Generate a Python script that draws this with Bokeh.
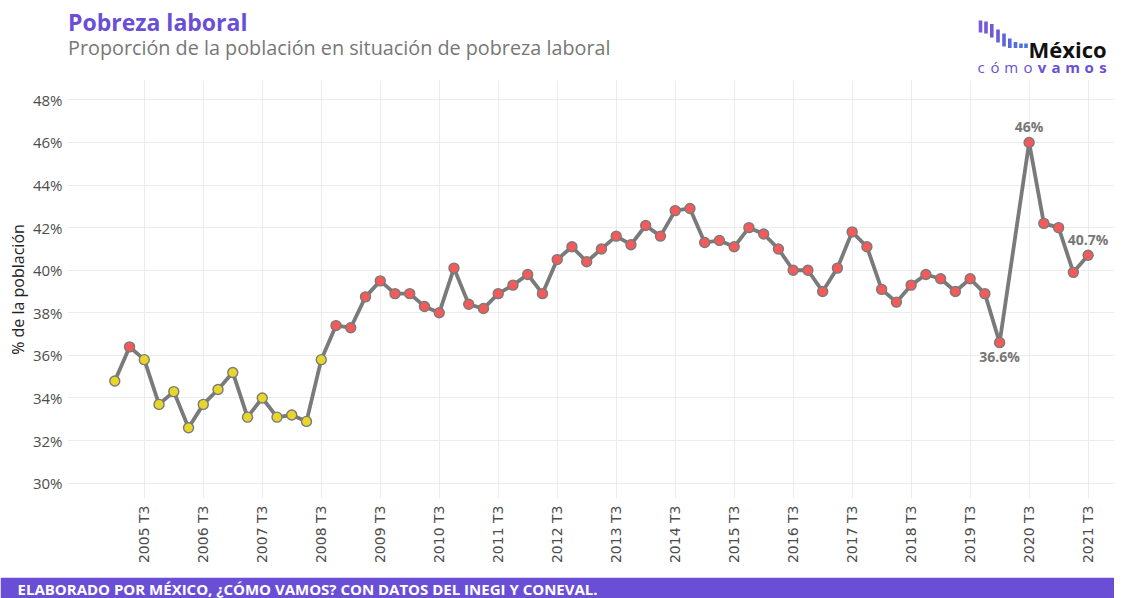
from bokeh.plotting import figure
from bokeh.models import Range1d, FixedTicker, PrintfTickFormatter, ColumnDataSource, Title
from bokeh.layouts import column
from bokeh.embed import file_html
from bokeh.resources import INLINE
from bokeh.core.properties import value

# ---------------- data ----------------
years = list(range(2005, 2022))
quarters = ["T1", "T2", "T3", "T4"]
periods = [f"{y} {q}" for y in years for q in quarters][:67]   # 2005 T1 .. 2021 T3

pobreza = [
    34.8, 36.4, 35.8, 33.7,
    34.3, 32.6, 33.7, 34.4,
    35.2, 33.1, 34.0, 33.1,
    33.2, 32.9, 35.8, 37.4,
    37.3, 38.75, 39.5, 38.9,
    38.9, 38.3, 38.0, 40.1,
    38.4, 38.2, 38.9, 39.3,
    39.8, 38.9, 40.5, 41.1,
    40.4, 41.0, 41.6, 41.2,
    42.1, 41.6, 42.8, 42.9,
    41.3, 41.4, 41.1, 42.0,
    41.7, 41.0, 40.0, 40.0,
    39.0, 40.1, 41.8, 41.1,
    39.1, 38.5, 39.3, 39.8,
    39.6, 39.0, 39.6, 38.9,
    36.6, None, 46.0, 42.2,
    42.0, 39.9, 40.7,
]
threshold = 36.0
tick_periods = [f"{y} T3" for y in years]
y_ticks = list(range(30, 49, 2))
annot_periods = ["2020 T3", "2020 T1", "2021 T3"]
annot_texts = ["46%", "36.6%", "40.7%"]
annot_side = ["above", "below", "above"]

# ---------------- styles ----------------
FONT = "Open Sans"
PURPLE = "#6a4fd6"
RED = "#f55a5a"
YELLOW = "#e8d62a"
LINE = "#7a7a7a"
GRID = "#ececec"

W = 1114
FL, FR = 67, W             # shared frame left / right (pixels)

# ---------------- header ----------------
hdr = figure(width=W, height=78, x_range=Range1d(FL, FR), y_range=Range1d(78, 0),
             toolbar_location=None, output_backend="svg", min_border=0,
             min_border_left=FL, min_border_right=0,
             x_axis_location=None, y_axis_location=None)
hdr.grid.visible = False
hdr.outline_line_color = None
hdr.text(x=[67.5], y=[37.5], text=["Pobreza laboral"], text_font=value(FONT),
         text_font_size="23px", text_font_style="bold", text_color=PURPLE,
         text_baseline="bottom")
hdr.text(x=[67.5], y=[60.6], text=["Proporción de la población en situación de pobreza laboral"],
         text_font=value(FONT), text_font_size="19.8px", text_color="#777777",
         text_baseline="bottom")
# logo (shifted 8px left so it stays inside the page)
LX = -8
bx = [988, 993.5, 999.3, 1005.5, 1011.5, 1017.3, 1023, 1028.5, 1033.5]
btop = [20, 21, 23.5, 29, 33, 38, 41.5, 43, 43]
bbot = [32, 33, 37, 42, 46, 47.5, 47.5, 47.5, 47.5]
bcol = ["#7a5ad8", "#7458d8", "#6d5ad9", "#665edb", "#5f63dd", "#5868de", "#526ddf", "#4c72e0", "#4677e1"]
hdr.quad(left=[b + LX - 1.8 for b in bx], right=[b + LX + 1.8 for b in bx], top=btop, bottom=bbot,
         fill_color=bcol, line_color=None)
hdr.text(x=[1036 + LX], y=[63.7], text=["México"], text_font=value(FONT), text_font_size="22px",
         text_font_style="bold", text_color="#111111", text_baseline="bottom")
lx = [988.7, 1002.5, 1018.7, 1035.5, 1049.5, 1063.5, 1080, 1096.7, 1110.5]
lt = ["c", "ó", "m", "o", "v", "a", "m", "o", "s"]
hdr.text(x=[v + LX for v in lx[:4]], y=[76.4] * 4, text=lt[:4], text_font=value(FONT),
         text_font_size="15px", text_color=PURPLE, text_align="center", text_baseline="bottom")
hdr.text(x=[v + LX for v in lx[4:]], y=[76.4] * 5, text=lt[4:], text_font=value(FONT),
         text_font_size="15px", text_font_style="bold", text_color=PURPLE,
         text_align="center", text_baseline="bottom")

# ---------------- main chart ----------------
idx = {p: i for i, p in enumerate(periods)}
xs = [i for i, v in enumerate(pobreza) if v is not None]
ys = [v for v in pobreza if v is not None]
cols = [RED if v > threshold else YELLOW for v in ys]
src = ColumnDataSource(dict(x=xs, y=ys, c=cols))

p = figure(width=W, height=499, x_range=Range1d(-3.207, 67.79), y_range=Range1d(29.28, 48.91),
           toolbar_location=None, output_backend="svg",
           min_border_left=FL, min_border_right=0, min_border_top=2, min_border_bottom=79)
p.outline_line_color = None
p.background_fill_color = "white"

p.xaxis.ticker = FixedTicker(ticks=[idx[t] for t in tick_periods])
p.xaxis.major_label_overrides = {idx[t]: t for t in tick_periods}
p.xaxis.major_label_orientation = 1.5708
p.xaxis.major_label_standoff = 7
p.yaxis.ticker = FixedTicker(ticks=y_ticks)
p.yaxis.formatter = PrintfTickFormatter(format="%d%%")
p.yaxis.major_label_standoff = 5
p.yaxis.axis_label = "% de la población"
p.yaxis.axis_label_standoff = 1
p.yaxis.axis_label_text_font = FONT
p.yaxis.axis_label_text_font_size = "16px"
p.yaxis.axis_label_text_font_style = "normal"
p.yaxis.axis_label_text_color = "#222222"
for ax in (p.xaxis, p.yaxis):
    ax.axis_line_color = None
    ax.major_tick_line_color = None
    ax.minor_tick_line_color = None
    ax.major_tick_out = 0
    ax.major_tick_in = 0
    ax.major_label_text_color = "#4d4d4d"
p.yaxis.major_label_text_font = FONT
p.yaxis.major_label_text_font_size = "15px"
p.xaxis.major_label_text_font = "DejaVu Sans"
p.xaxis.major_label_text_font_size = "14px"
p.xgrid.grid_line_color = GRID
p.ygrid.grid_line_color = GRID

p.line("x", "y", source=src, line_color=LINE, line_width=3.8)
p.scatter("x", "y", source=src, size=10, fill_color="c", line_color=LINE, line_width=1.4)

ax_ = [idx[a] for a in annot_periods]
ay_ = [pobreza[idx[a]] for a in annot_periods]
for x0, y0, t, s in zip(ax_, ay_, annot_texts, annot_side):
    p.text(x=[x0], y=[y0], text=[t], text_font=value(FONT), text_font_size="14px",
           text_font_style="bold", text_color="#777777", text_align="center",
           text_baseline="bottom" if s == "above" else "top",
           y_offset=-6 if s == "above" else 4)

# ---------------- footer ----------------
ftr = figure(width=W, height=21, x_range=Range1d(FL, FR), y_range=Range1d(0, 1),
             toolbar_location=None, output_backend="svg", min_border=0,
             min_border_left=FL, min_border_right=0,
             x_axis_location=None, y_axis_location=None)
ftr.grid.visible = False
ftr.outline_line_color = None
ftr.background_fill_color = PURPLE
ftr.border_fill_color = PURPLE
ftr.add_layout(Title(text="ELABORADO POR MÉXICO, ¿CÓMO VAMOS? CON DATOS DEL INEGI Y CONEVAL.",
                     align="left", offset=17 - FL, standoff=0,
                     text_font=FONT, text_font_size="15px", text_font_style="bold",
                     text_color="white"), "above")

layout = column(hdr, p, ftr, spacing=0)
open("out.html", "w").write(file_html(layout, INLINE))
